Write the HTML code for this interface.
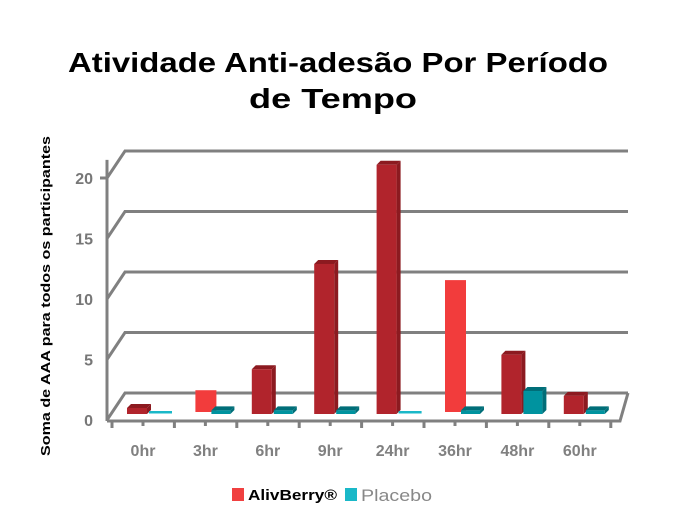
<!DOCTYPE html>
<html><head><meta charset="utf-8"><style>
body{margin:0;background:#fff;width:675px;height:518px;overflow:hidden;font-family:"Liberation Sans",sans-serif}
</style></head><body>
<svg id="c" width="675" height="518">
<text x="338" y="72" text-anchor="middle" font-size="28" font-weight="bold" fill="#000" textLength="540" lengthAdjust="spacingAndGlyphs">Atividade Anti-adesão Por Período</text>
<text x="333" y="108" text-anchor="middle" font-size="28" font-weight="bold" fill="#000" textLength="168" lengthAdjust="spacingAndGlyphs">de Tempo</text>
<text transform="translate(50,296) rotate(-90)" text-anchor="middle" font-size="13" font-weight="bold" fill="#000" textLength="320" lengthAdjust="spacingAndGlyphs">Soma de AAA para todos os participantes</text>
<g id="grid"></g><g id="bars"></g><g id="xl"></g>
<rect x="232" y="488" width="12" height="13" fill="#f04040"/>
<text x="248" y="500" font-size="15" font-weight="bold" fill="#000" textLength="89" lengthAdjust="spacingAndGlyphs">AlivBerry®</text>
<rect x="345" y="488" width="12" height="13" fill="#1ab8c8"/>
<text x="361" y="501" font-size="17" fill="#888" textLength="71" lengthAdjust="spacingAndGlyphs">Placebo</text>
</svg>
<script>
const categories=["0hr","3hr","6hr","9hr","24hr","36hr","48hr","60hr"];
const alivValues=[0.5,1.8,3.7,12.4,20.6,10.9,4.9,1.5];
const placeboValues=[0,0.3,0.3,0.3,0,0.3,1.9,0.3];
const highlight=[false,true,false,false,false,true,false,false];
const yTicks=[0,5,10,15,20];
const NS="http://www.w3.org/2000/svg";
function mk(p,t,a){const e=document.createElementNS(NS,t);for(const k in a)e.setAttribute(k,a[k]);p.appendChild(e);return e;}
const base=414, ppu=12.1;
function y(v){return base-v*ppu;}
function yFront(v){return 420-v*12.1;}
function xc(i){return 143+i*62.4;}
const g=document.getElementById('grid');
yTicks.forEach((t,i)=>{
  const yb=393-t*12.1, yf=yFront(t);
  const l=mk(g,'polyline',{points:`107,${yf} 125,${yb} 628,${yb}`,fill:'none',stroke:'#808080','stroke-width':3});
  
  
  const tx=mk(g,'text',{x:93,y:yf+6,'text-anchor':'end','font-size':16,'font-weight':'bold',fill:'#777'});
  tx.textContent=t;
  
  
});
mk(g,'line',{x1:107,y1:yFront(21.5),x2:107,y2:421,stroke:'#808080','stroke-width':3});
mk(g,'polyline',{points:'107,421 620,421 628,393',fill:'none',stroke:'#808080','stroke-width':3});
mk(g,'line',{x1:100,y1:yFront(20),x2:107,y2:yFront(20),stroke:'#808080','stroke-width':3});
const bg=document.getElementById('bars'), xl=document.getElementById('xl');
function bar3d(x,v,w,front,top,side,name){
  const yt=y(v), d=4;
  const gg=mk(bg,'g',{});
  
  
  if(v<=0.05){mk(gg,'rect',{x:x,y:base-3,width:w+4,height:2.5,fill:'#1ab8c8'});return;}
  mk(gg,'polygon',{points:`${x},${yt} ${x+d},${yt-d} ${x+w+d},${yt-d} ${x+w},${yt}`,fill:top});
  mk(gg,'polygon',{points:`${x+w},${yt} ${x+w+d},${yt-d} ${x+w+d},${base-d} ${x+w},${base}`,fill:side});
  mk(gg,'rect',{x:x,y:yt,width:w,height:base-yt,fill:front});
}
categories.forEach((c,i)=>{
  const cx=xc(i);
  if(highlight[i]){
    const r=mk(bg,'rect',{x:cx-10,y:y(alivValues[i])-2,width:21,height:base-y(alivValues[i]),fill:'#f23c3c'});
    
    
  } else bar3d(cx-16,alivValues[i],20,'#b1242c','#8c1a20','#8c1a20','bar-alivberry-'+c);
  bar3d(cx+6,placeboValues[i],19,'#00939f','#006e78','#006e78','bar-placebo-'+c);
  mk(xl,'line',{x1:cx-31,y1:421,x2:cx-31,y2:428,stroke:'#808080','stroke-width':3});
  mk(xl,'line',{x1:cx,y1:421,x2:cx,y2:426,stroke:'#808080','stroke-width':3});
  const t=mk(xl,'text',{x:cx,y:456,'text-anchor':'middle','font-size':16,'font-weight':'bold',fill:'#808080'});
  t.textContent=c;
  
  
});
mk(xl,'line',{x1:xc(7)+31,y1:421,x2:xc(7)+31,y2:428,stroke:'#808080','stroke-width':3});
</script>
</body></html>
